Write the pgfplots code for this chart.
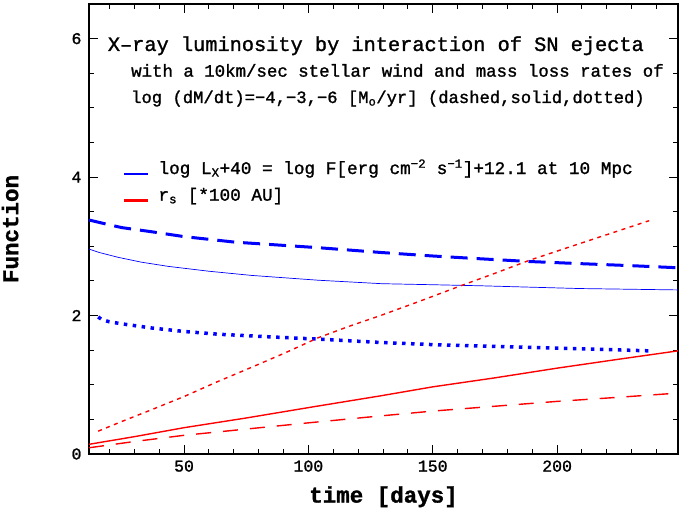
\documentclass[border=0pt]{standalone}
\usepackage{fontspec}
\setmainfont{Liberation Mono}[RawFeature={embolden=1.3}]
\usepackage{pgfplots}
\pgfplotsset{compat=1.18}
\begin{document}
\begin{tikzpicture}
\begin{axis}[
  name=ax, at={(0,0)}, anchor=south west,
  scale only axis, width=589pt, height=450pt,
  xmin=11.8, xmax=248.6, ymin=0, ymax=6.5,
  xtick={50,100,150,200}, minor xtick={20,30,40,60,70,80,90,110,120,130,140,160,170,180,190,210,220,230,240},
  ytick={0,2,4,6}, minor ytick={0.5,1,1.5,2.5,3,3.5,4.5,5,5.5,6.5},
  tick align=inside, major tick length=9pt, minor tick length=5pt,
  axis line style={line width=1.3pt},
  every tick/.style={black, line width=1pt},
  tick label style={font=\fontsize{16.5}{19}\selectfont},
  /pgf/number format/assume math mode=true,
  xticklabel style={yshift=-3pt},
  yticklabel style={xshift=-4pt},
  xlabel={time [days]}, ylabel={Function},
  label style={font=\fontsize{22.5}{26}\selectfont\bfseries},
  xlabel style={at={(axis description cs:0.5,-0.095)}, anchor=center},
  ylabel style={at={(axis description cs:-0.134,0.5)}, anchor=center},
  clip=true,
]
% blue dashed (log dM/dt = -4)
\addplot[blue, line width=3pt, dash pattern=on 17pt off 9pt] coordinates {
 (11.8,3.38) (20,3.31) (25,3.27) (37,3.21) (50,3.14) (70.5,3.06) (104,2.98) (129.5,2.91) (150,2.86) (169,2.82) (189,2.78) (209,2.75) (230,2.72) (248.6,2.69)};
% blue solid (-3)
\addplot[blue, line width=0.7pt] coordinates {
 (11.8,2.96) (16,2.91) (23.6,2.84) (33,2.77) (43.7,2.71) (60,2.64) (77,2.58) (104,2.51) (129.5,2.46) (150,2.445) (169,2.43) (209,2.39) (248.6,2.37)};
% blue dotted (-6)
\addplot[blue, line width=3.5pt, dash pattern=on 3.5pt off 5.5pt] coordinates {
 (15.5,1.98) (17,1.94) (20,1.91) (25,1.88) (37,1.82) (50,1.77) (63.8,1.73) (80,1.70) (97.3,1.67) (104,1.66) (129.5,1.61) (150,1.58) (169,1.56) (189,1.54) (209,1.52) (237,1.49)};
% red dotted (-6)
\addplot[red, line width=1.4pt, dash pattern=on 4pt off 4.5pt] coordinates {
 (15.5,0.33) (25,0.47) (37,0.64) (50,0.83) (63.8,1.05) (77,1.25) (90.6,1.46) (104,1.68) (116,1.84) (129,2.00) (145,2.21) (162,2.44) (175,2.61) (189,2.80) (210,3.05) (237,3.37)};
% red solid (-3)
\addplot[red, line width=1.4pt] coordinates {
 (11.8,0.14) (30,0.25) (50,0.38) (75,0.52) (100,0.67) (129,0.84) (150,0.97) (175,1.10) (200,1.24) (225,1.37) (248.6,1.49)};
% red dashed (-4)
\addplot[red, line width=1.4pt, dash pattern=on 15pt off 12pt] coordinates {
 (11.8,0.09) (30,0.18) (50,0.27) (75,0.36) (100,0.45) (129,0.55) (150,0.62) (175,0.69) (200,0.76) (225,0.82) (248.6,0.88)};

\node[anchor=base west, font=\fontsize{20.3}{22}\selectfont, inner sep=0pt] at (axis description cs:0.0317,0.8956) {X–ray luminosity by interaction of SN ejecta};
\node[anchor=base west, font=\fontsize{17.4}{20}\selectfont, inner sep=0pt] at (axis description cs:0.0713,0.8385) {with a 10km/sec stellar wind and mass loss rates of};
\node[anchor=base west, font=\fontsize{17.2}{20}\selectfont, inner sep=0pt] at (axis description cs:0.0713,0.7800) {log (dM/dt)=−4,−3,−6 [M\textsubscript{o}/yr] (dashed,solid,dotted)};
\draw[blue, line width=2.5pt] (axis description cs:0.0599,0.6222) -- (axis description cs:0.1007,0.6222);
\draw[red, line width=2.5pt] (axis description cs:0.0599,0.5629) -- (axis description cs:0.1007,0.5629);
\node[anchor=base west, font=\fontsize{17.7}{20}\selectfont, inner sep=0pt] at (axis description cs:0.1177,0.6222) {log L\textsubscript{X}+40 = log F[erg cm\textsuperscript{−2} s\textsuperscript{−1}]+12.1 at 10 Mpc};
\node[anchor=base west, font=\fontsize{17.7}{20}\selectfont, inner sep=0pt] at (axis description cs:0.1177,0.5629) {r\textsubscript{s} [*100 AU]};
\end{axis}
\pgfresetboundingbox
\path ([shift={(-89pt,-62pt)}]ax.south west) rectangle ([shift={(7pt,4pt)}]ax.north east);
\end{tikzpicture}
\end{document}
